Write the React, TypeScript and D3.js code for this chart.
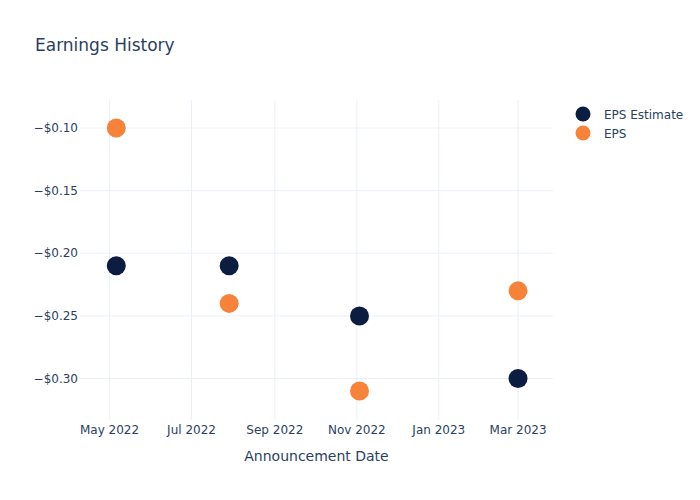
import React from "react";
import * as d3 from "d3";

const dates = ["2022-05-06", "2022-07-29", "2022-11-03", "2023-03-01"];
const epsEstimate = [-0.21, -0.21, -0.25, -0.3];
const eps = [-0.1, -0.24, -0.31, -0.23];
const yTicks = [-0.1, -0.15, -0.2, -0.25, -0.3];
const xTickDates = ["2022-05-01", "2022-07-01", "2022-09-01", "2022-11-01", "2023-01-01", "2023-03-01"];
const seriesNames = ["EPS Estimate", "EPS"];

const W = 700;
const H = 500;
const M = { l: 80, r: 147, t: 100, b: 80 };
const FONT = "'DejaVu Sans', Verdana, sans-serif";
const TXT = "#2a3f5f";
const GRID = "#ebf0f8";
const NAVY = "#0b1e41";
const ORANGE = "#f7823a";

const parse = d3.utcParse("%Y-%m-%d");
const fmtTick = d3.utcFormat("%b %Y");

export default function App() {
  const x = d3
    .scaleUtc()
    .domain([parse("2022-04-09")!, parse("2023-03-27")!])
    .range([M.l, W - M.r]);
  const y = d3.scaleLinear().domain([-0.3331, -0.0776]).range([H - M.b, M.t]);
  const fmtY = (v: number) => "\u2212$" + Math.abs(v).toFixed(2);
  const r = 9.5;

  return (
    <svg width={W} height={H} style={{ position: "absolute", left: 0, top: 0, background: "#fff" }} fontFamily={FONT}>
      <rect x={0} y={0} width={W} height={H} fill="#fff" />
      {xTickDates.map((d) => (
        <line key={"gx" + d} x1={x(parse(d)!)} x2={x(parse(d)!)} y1={M.t} y2={H - M.b} stroke={GRID} strokeWidth={1} />
      ))}
      {yTicks.map((v) => (
        <line key={"gy" + v} x1={M.l} x2={W - M.r} y1={y(v)} y2={y(v)} stroke={GRID} strokeWidth={1} />
      ))}
      {yTicks.map((v) => (
        <text key={"ty" + v} x={M.l - 2} y={y(v) + 4.2} textAnchor="end" fontSize={12} fill={TXT}>
          {fmtY(v)}
        </text>
      ))}
      {xTickDates.map((d) => (
        <text key={"tx" + d} x={x(parse(d)!)} y={433.5} textAnchor="middle" fontSize={12} fill={TXT}>
          {fmtTick(parse(d)!)}
        </text>
      ))}
      {dates.map((d, i) => (
        <circle key={"e" + i} cx={x(parse(d)!)} cy={y(epsEstimate[i])} r={r} fill={NAVY} />
      ))}
      {dates.map((d, i) => (
        <circle key={"a" + i} cx={x(parse(d)!)} cy={y(eps[i])} r={r} fill={ORANGE} />
      ))}
      <text x={35} y={50.5} fontSize={17} fill={TXT}>
        Earnings History
      </text>
      <text x={(M.l + W - M.r) / 2} y={461} textAnchor="middle" fontSize={14} fill={TXT}>
        Announcement Date
      </text>
      {seriesNames.map((n, i) => (
        <g key={n}>
          <circle cx={583} cy={114 + i * 19} r={7.5} fill={i === 0 ? NAVY : ORANGE} />
          <text x={604} y={118.5 + i * 19} fontSize={12} fill={TXT}>
            {n}
          </text>
        </g>
      ))}
    </svg>
  );
}
